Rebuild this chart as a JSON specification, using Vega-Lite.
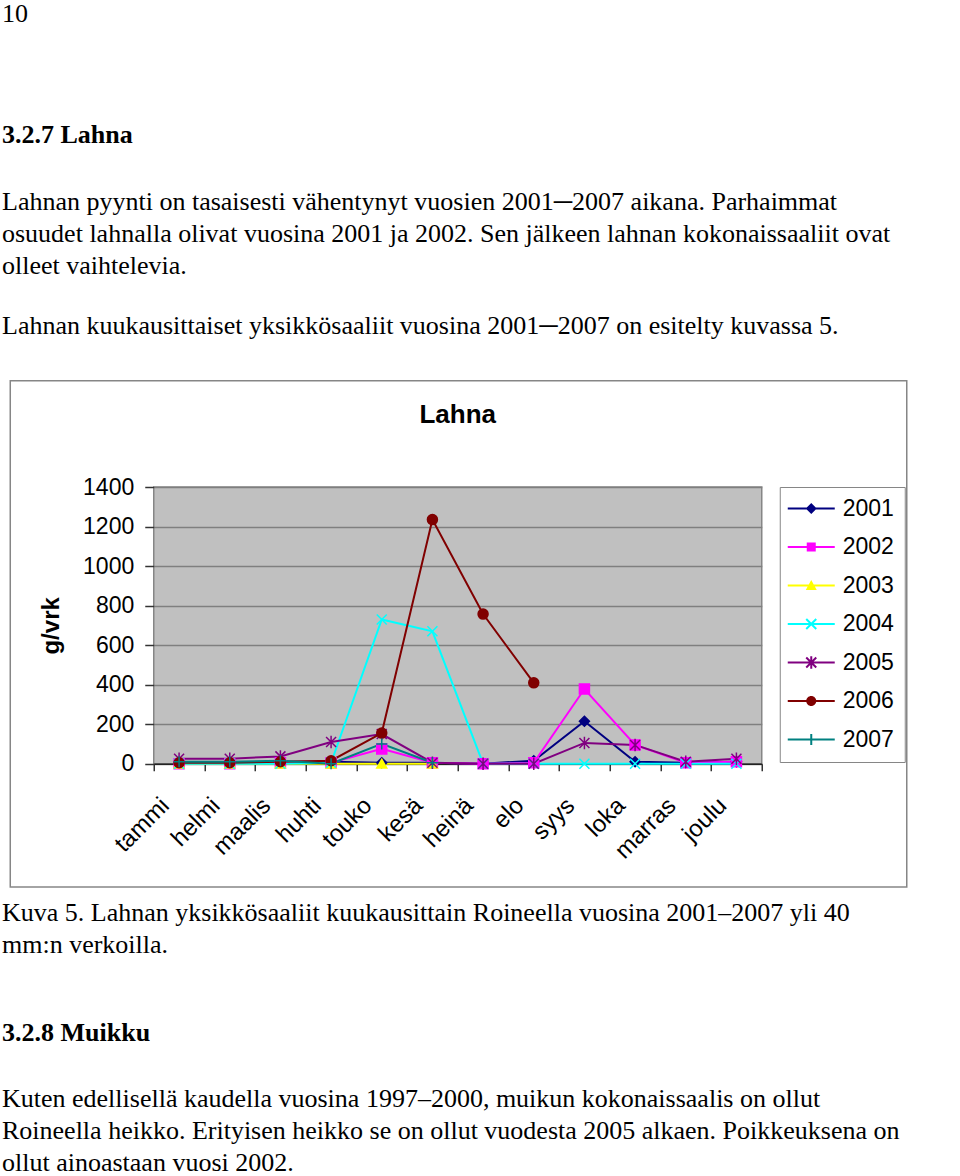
{
  "$schema": "https://vega.github.io/schema/vega-lite/v6.json",
  "padding": {"left": 2, "top": 1, "right": 0, "bottom": 0},
  "background": "white",
  "spacing": 0,
  "config": {
    "view": {"stroke": null},
    "title": {"font": "Liberation Serif", "fontSize": 26, "fontWeight": "normal", "color": "black", "anchor": "start", "offset": 0, "subtitleFont": "Liberation Serif", "subtitleFontSize": 26, "subtitleColor": "black", "subtitleLineHeight": 32, "lineHeight": 32, "limit": 2000}
  },
  "datasets": {
    "lahna": [
      {"vuosi": "2001", "kk": 1, "kuukausi": "tammi", "g": 5},
      {"vuosi": "2001", "kk": 2, "kuukausi": "helmi", "g": 5},
      {"vuosi": "2001", "kk": 3, "kuukausi": "maalis", "g": 10},
      {"vuosi": "2001", "kk": 4, "kuukausi": "huhti", "g": 10},
      {"vuosi": "2001", "kk": 5, "kuukausi": "touko", "g": 5},
      {"vuosi": "2001", "kk": 6, "kuukausi": "kesä", "g": 5},
      {"vuosi": "2001", "kk": 7, "kuukausi": "heinä", "g": 0},
      {"vuosi": "2001", "kk": 8, "kuukausi": "elo", "g": 15},
      {"vuosi": "2001", "kk": 9, "kuukausi": "syys", "g": 215},
      {"vuosi": "2001", "kk": 10, "kuukausi": "loka", "g": 10},
      {"vuosi": "2001", "kk": 11, "kuukausi": "marras", "g": 5},
      {"vuosi": "2001", "kk": 12, "kuukausi": "joulu", "g": 10},
      {"vuosi": "2002", "kk": 1, "kuukausi": "tammi", "g": 0},
      {"vuosi": "2002", "kk": 2, "kuukausi": "helmi", "g": 0},
      {"vuosi": "2002", "kk": 3, "kuukausi": "maalis", "g": 5},
      {"vuosi": "2002", "kk": 4, "kuukausi": "huhti", "g": 5},
      {"vuosi": "2002", "kk": 5, "kuukausi": "touko", "g": 75},
      {"vuosi": "2002", "kk": 6, "kuukausi": "kesä", "g": 5},
      {"vuosi": "2002", "kk": 7, "kuukausi": "heinä", "g": 0},
      {"vuosi": "2002", "kk": 8, "kuukausi": "elo", "g": 5},
      {"vuosi": "2002", "kk": 9, "kuukausi": "syys", "g": 378},
      {"vuosi": "2002", "kk": 10, "kuukausi": "loka", "g": 95},
      {"vuosi": "2002", "kk": 11, "kuukausi": "marras", "g": 5},
      {"vuosi": "2002", "kk": 12, "kuukausi": "joulu", "g": 10},
      {"vuosi": "2003", "kk": 1, "kuukausi": "tammi", "g": 0},
      {"vuosi": "2003", "kk": 2, "kuukausi": "helmi", "g": 0},
      {"vuosi": "2003", "kk": 3, "kuukausi": "maalis", "g": 0},
      {"vuosi": "2003", "kk": 4, "kuukausi": "huhti", "g": 0},
      {"vuosi": "2003", "kk": 5, "kuukausi": "touko", "g": 0},
      {"vuosi": "2003", "kk": 6, "kuukausi": "kesä", "g": 0},
      {"vuosi": "2004", "kk": 1, "kuukausi": "tammi", "g": 0},
      {"vuosi": "2004", "kk": 2, "kuukausi": "helmi", "g": 0},
      {"vuosi": "2004", "kk": 3, "kuukausi": "maalis", "g": 0},
      {"vuosi": "2004", "kk": 4, "kuukausi": "huhti", "g": 5},
      {"vuosi": "2004", "kk": 5, "kuukausi": "touko", "g": 730},
      {"vuosi": "2004", "kk": 6, "kuukausi": "kesä", "g": 670},
      {"vuosi": "2004", "kk": 7, "kuukausi": "heinä", "g": 0},
      {"vuosi": "2004", "kk": 8, "kuukausi": "elo", "g": 0},
      {"vuosi": "2004", "kk": 9, "kuukausi": "syys", "g": 0},
      {"vuosi": "2004", "kk": 10, "kuukausi": "loka", "g": 0},
      {"vuosi": "2004", "kk": 11, "kuukausi": "marras", "g": 0},
      {"vuosi": "2004", "kk": 12, "kuukausi": "joulu", "g": 0},
      {"vuosi": "2005", "kk": 1, "kuukausi": "tammi", "g": 25},
      {"vuosi": "2005", "kk": 2, "kuukausi": "helmi", "g": 25},
      {"vuosi": "2005", "kk": 3, "kuukausi": "maalis", "g": 37},
      {"vuosi": "2005", "kk": 4, "kuukausi": "huhti", "g": 110},
      {"vuosi": "2005", "kk": 5, "kuukausi": "touko", "g": 150},
      {"vuosi": "2005", "kk": 6, "kuukausi": "kesä", "g": 5},
      {"vuosi": "2005", "kk": 7, "kuukausi": "heinä", "g": 0},
      {"vuosi": "2005", "kk": 8, "kuukausi": "elo", "g": 0},
      {"vuosi": "2005", "kk": 9, "kuukausi": "syys", "g": 105},
      {"vuosi": "2005", "kk": 10, "kuukausi": "loka", "g": 95},
      {"vuosi": "2005", "kk": 11, "kuukausi": "marras", "g": 10},
      {"vuosi": "2005", "kk": 12, "kuukausi": "joulu", "g": 25},
      {"vuosi": "2006", "kk": 1, "kuukausi": "tammi", "g": 5},
      {"vuosi": "2006", "kk": 2, "kuukausi": "helmi", "g": 5},
      {"vuosi": "2006", "kk": 3, "kuukausi": "maalis", "g": 10},
      {"vuosi": "2006", "kk": 4, "kuukausi": "huhti", "g": 15},
      {"vuosi": "2006", "kk": 5, "kuukausi": "touko", "g": 155},
      {"vuosi": "2006", "kk": 6, "kuukausi": "kesä", "g": 1235},
      {"vuosi": "2006", "kk": 7, "kuukausi": "heinä", "g": 757},
      {"vuosi": "2006", "kk": 8, "kuukausi": "elo", "g": 409},
      {"vuosi": "2007", "kk": 1, "kuukausi": "tammi", "g": 10},
      {"vuosi": "2007", "kk": 2, "kuukausi": "helmi", "g": 10},
      {"vuosi": "2007", "kk": 3, "kuukausi": "maalis", "g": 15},
      {"vuosi": "2007", "kk": 4, "kuukausi": "huhti", "g": 0},
      {"vuosi": "2007", "kk": 5, "kuukausi": "touko", "g": 100},
      {"vuosi": "2007", "kk": 6, "kuukausi": "kesä", "g": 5}
    ]
  },
  "vconcat": [
    {
      "width": 940, "height": 90.3,
      "data": {"values": []},
      "mark": {"type": "point", "opacity": 0},
      "title": {"text": "10"}
    },
    {
      "width": 940, "height": 29.7,
      "data": {"values": []},
      "mark": {"type": "point", "opacity": 0},
      "title": {
        "text": "3.2.7 Lahna", "fontWeight": "bold",
        "subtitle": [
          "Lahnan pyynti on tasaisesti vähentynyt vuosien 2001─2007 aikana. Parhaimmat",
          "osuudet lahnalla olivat vuosina 2001 ja 2002. Sen jälkeen lahnan kokonaissaaliit ovat",
          "olleet vaihtelevia."
        ],
        "subtitlePadding": 41
      }
    },
    {
      "width": 940, "height": 35.25,
      "data": {"values": []},
      "mark": {"type": "point", "opacity": 0},
      "title": {"text": "Lahnan kuukausittaiset yksikkösaaliit vuosina 2001─2007 on esitelty kuvassa 5."}
    },
    {
      "spacing": 5.75,
      "hconcat": [
        {
          "width": 1, "height": 413,
          "data": {"values": []},
          "mark": {"type": "point", "opacity": 0}
        },
        {
          "width": 608, "height": 276.7,
          "view": {"fill": "#c0c0c0", "stroke": "#868686", "strokeWidth": 1.5},
          "title": {"text": "Lahna", "font": "Liberation Sans", "fontSize": 26, "fontWeight": "bold", "anchor": "middle", "frame": "group", "offset": -48},
          "resolve": {"scale": {"color": "independent", "shape": "independent"}},
          "layer": [
            {
              "data": {"values": [{}]},
              "mark": {"type": "rect", "fill": "white", "fillOpacity": 0, "stroke": "#868686", "strokeWidth": 1.5},
              "encoding": {
                "x": {"datum": -2.332, "type": "quantitative",
                  "scale": {"domain": [0.5, 12.5], "nice": false, "zero": false},
                  "axis": {
                    "orient": "bottom", "title": null, "grid": false,
                    "domain": true, "domainColor": "#222222", "domainWidth": 1.5,
                    "values": [0.5, 1, 1.5, 2, 2.5, 3, 3.5, 4, 4.5, 5, 5.5, 6, 6.5, 7, 7.5, 8, 8.5, 9, 9.5, 10, 10.5, 11, 11.5, 12, 12.5],
                    "tickCount": 100,
                    "tickSize": 7, "tickWidth": 1.5,
                    "tickColor": {"condition": {"test": "datum.value % 1 != 0", "value": "#333333"}, "value": "transparent"},
                    "labelExpr": "datum.value == 1 ? 'tammi' : datum.value == 2 ? 'helmi' : datum.value == 3 ? 'maalis' : datum.value == 4 ? 'huhti' : datum.value == 5 ? 'touko' : datum.value == 6 ? 'kesä' : datum.value == 7 ? 'heinä' : datum.value == 8 ? 'elo' : datum.value == 9 ? 'syys' : datum.value == 10 ? 'loka' : datum.value == 11 ? 'marras' : datum.value == 12 ? 'joulu' : ''",
                    "labelAngle": -45, "labelAlign": "right", "labelBaseline": "middle", "labelPadding": 31, "labelOffset": -14,
                    "labelFont": "Liberation Sans", "labelFontSize": 24, "labelColor": "black",
                    "labelOverlap": false, "labelFlush": false
                  }
                },
                "x2": {"datum": 15.362},
                "y": {"datum": -623.9, "type": "quantitative",
                  "scale": {"domain": [0, 1400], "nice": false, "zero": false},
                  "axis": {
                    "orient": "left", "domain": false,
                    "grid": true, "gridColor": "#7f7f7f", "gridWidth": 1.5,
                    "values": [0, 200, 400, 600, 800, 1000, 1200, 1400], "tickCount": 100, "format": "d",
                    "tickSize": 9, "tickWidth": 1.5, "tickColor": "#333333",
                    "labelFont": "Liberation Sans", "labelFontSize": 23, "labelColor": "black", "labelPadding": 11,
                    "labelOverlap": false, "labelFlush": false,
                    "title": "g/vrk", "titleFont": "Liberation Sans", "titleFontSize": 24, "titleFontWeight": "bold", "titleColor": "black",
                    "titleAngle": 270, "titleBaseline": "alphabetic", "titleAlign": "center", "titleX": -95, "titleY": 138.35
                  }
                },
                "y2": {"datum": 1937.9}
              }
            },
            {
              "data": {"name": "lahna"},
              "mark": {"type": "line", "strokeWidth": 2},
              "encoding": {
                "x": {"field": "kk", "type": "quantitative", "scale": {"domain": [0.5, 12.5], "nice": false, "zero": false}},
                "y": {"field": "g", "type": "quantitative", "scale": {"domain": [0, 1400], "nice": false, "zero": false}},
                "color": {
                  "field": "vuosi", "type": "nominal", "legend": null,
                  "scale": {"domain": ["2001", "2002", "2003", "2004", "2005", "2006", "2007"], "range": ["#000080", "#ff00ff", "#ffff00", "#00ffff", "#800080", "#800000", "#008080"]}
                }
              }
            },
            {
              "data": {"name": "lahna"},
              "mark": {"type": "point", "filled": true, "size": 100, "opacity": 1, "strokeWidth": 1.5},
              "encoding": {
                "x": {"field": "kk", "type": "quantitative", "scale": {"domain": [0.5, 12.5], "nice": false, "zero": false}},
                "y": {"field": "g", "type": "quantitative", "scale": {"domain": [0, 1400], "nice": false, "zero": false}},
                "color": {
                  "field": "vuosi", "type": "nominal", "legend": null,
                  "scale": {"domain": ["2001", "2002", "2003", "2004", "2005", "2006", "2007"], "range": ["#000080", "#ff00ff", "#ffff00", "#00ffff", "#800080", "#800000", "#008080"]}
                },
                "stroke": {
                  "field": "vuosi", "type": "nominal", "legend": null,
                  "scale": {"domain": ["2001", "2002", "2003", "2004", "2005", "2006", "2007"], "range": ["#000080", "#ff00ff", "#ffff00", "#00ffff", "#800080", "#800000", "#008080"]}
                },
                "shape": {
                  "field": "vuosi", "type": "nominal", "legend": null,
                  "scale": {"domain": ["2001", "2002", "2003", "2004", "2005", "2006", "2007"], "range": ["diamond", "square", "triangle-up", "M-1,-1L1,1M-1,1L1,-1", "M-1,-1L1,1M-1,1L1,-1M0,-1.25L0,1.25", "circle", "M-1.1,0L1.1,0M0,-1.1L0,1.1"]}
                }
              }
            },
            {
              "data": {"values": []},
              "mark": {"type": "point", "filled": true, "size": 100},
              "encoding": {
                "x": {"field": "kk", "type": "quantitative", "scale": {"domain": [0.5, 12.5], "nice": false, "zero": false}},
                "y": {"field": "g", "type": "quantitative", "scale": {"domain": [0, 1400], "nice": false, "zero": false}},
                "color": {
                  "field": "vuosi", "type": "nominal",
                  "scale": {"domain": ["2001", "2002", "2003", "2004", "2005", "2006", "2007"], "range": ["#000080", "#ff00ff", "#ffff00", "#00ffff", "#800080", "#800000", "#008080"]},
                  "legend": {
                    "title": null, "orient": "right", "offset": 18, "direction": "vertical",
                    "strokeColor": "#868686", "fillColor": "white", "padding": 10,
                    "symbolSize": 100, "symbolOffset": 10, "labelOffset": 20, "symbolStrokeWidth": 0,
                    "labelFont": "Liberation Sans", "labelFontSize": 23, "labelColor": "black",
                    "rowPadding": 14.5, "symbolOpacity": 1
                  }
                },
                "shape": {
                  "field": "vuosi", "type": "nominal", "legend": null,
                  "scale": {"domain": ["2001", "2002", "2003", "2004", "2005", "2006", "2007"], "range": [
                    "M-4.7,-0.2L4.7,-0.2L4.7,0.2L-4.7,0.2ZM0,-1.1L1.1,0L0,1.1L-1.1,0Z",
                    "M-4.7,-0.2L4.7,-0.2L4.7,0.2L-4.7,0.2ZM-0.9,-0.9L0.9,-0.9L0.9,0.9L-0.9,0.9Z",
                    "M-4.7,-0.2L4.7,-0.2L4.7,0.2L-4.7,0.2ZM0,-1.1L1.1,0.9L-1.1,0.9Z",
                    "M-4.7,-0.2L4.7,-0.2L4.7,0.2L-4.7,0.2ZM-0.86,-1.14L1.14,0.86L0.86,1.14L-1.14,-0.86ZM-1.14,0.86L0.86,-1.14L1.14,-0.86L-0.86,1.14Z",
                    "M-4.7,-0.2L4.7,-0.2L4.7,0.2L-4.7,0.2ZM-0.86,-1.14L1.14,0.86L0.86,1.14L-1.14,-0.86ZM-1.14,0.86L0.86,-1.14L1.14,-0.86L-0.86,1.14ZM-0.2,-1.25L0.2,-1.25L0.2,1.25L-0.2,1.25Z",
                    "M-4.7,-0.2L4.7,-0.2L4.7,0.2L-4.7,0.2ZM-1,0A1,1 0 1,1 1,0A1,1 0 1,1 -1,0Z",
                    "M-4.7,-0.2L4.7,-0.2L4.7,0.2L-4.7,0.2ZM-0.2,-1.1L0.2,-1.1L0.2,1.1L-0.2,1.1Z"
                  ]}
                }
              }
            }
          ]
        }
      ]
    },
    {
      "width": 940, "height": 57.75,
      "data": {"values": []},
      "mark": {"type": "point", "opacity": 0},
      "title": {"text": ["Kuva 5. Lahnan yksikkösaaliit kuukausittain Roineella vuosina 2001–2007 yli 40", "mm:n verkoilla."]}
    },
    {
      "width": 940, "height": 1,
      "data": {"values": []},
      "mark": {"type": "point", "opacity": 0},
      "title": {
        "text": "3.2.8 Muikku", "fontWeight": "bold",
        "subtitle": [
          "Kuten edellisellä kaudella vuosina 1997–2000, muikun kokonaissaalis on ollut",
          "Roineella heikko. Erityisen heikko se on ollut vuodesta 2005 alkaen. Poikkeuksena on",
          "ollut ainoastaan vuosi 2002."
        ],
        "subtitlePadding": 40
      }
    }
  ]
}
